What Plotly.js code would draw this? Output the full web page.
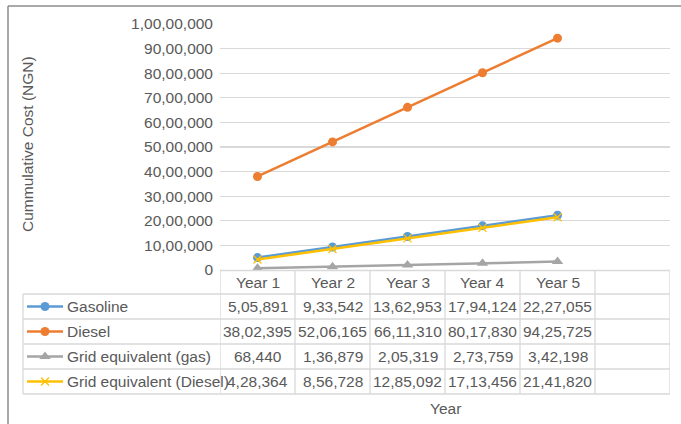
<!DOCTYPE html>
<html>
<head>
<meta charset="utf-8">
<script src="https://cdn.plot.ly/plotly-3.0.1.min.js"></script>
<style>html,body{margin:0;padding:0;background:#fff;}#chart{width:681px;height:424px;}</style>
</head>
<body>
<div id="chart"></div>
<script>
// ---- data ----
const years = ["Year 1", "Year 2", "Year 3", "Year 4", "Year 5"];
const seriesNames = ["Gasoline", "Diesel", "Grid equivalent (gas)", "Grid equivalent (Diesel)"];
const gasoline = [505891, 933542, 1362953, 1794124, 2227055];
const diesel = [3802395, 5206165, 6611310, 8017830, 9425725];
const gridGas = [68440, 136879, 205319, 273759, 342198];
const gridDiesel = [428364, 856728, 1285092, 1713456, 2141820];
const yTicks = [0, 1000000, 2000000, 3000000, 4000000, 5000000, 6000000, 7000000, 8000000, 9000000, 10000000];

// ---- styles ----
const W = 681, H = 424;
const FONT = "Liberation Sans, Arial, sans-serif";
const TXT = "#595959";
const FS = 15.5;
const GRID = "#d9d9d9";
const styles = [
  {color: "#5B9BD5", symbol: "circle", size: 9, lw: 0},
  {color: "#ED7D31", symbol: "circle", size: 9, lw: 0},
  {color: "#A5A5A5", symbol: "triangle-up", size: 10, lw: 0},
  {color: "#FFC000", symbol: "x-thin", size: 8, lw: 1.3}
];
const allSeries = [gasoline, diesel, gridGas, gridDiesel];

function inr(n) {
  const s = String(Math.round(n));
  if (s.length <= 3) return s;
  const last3 = s.slice(-3);
  let rest = s.slice(0, -3);
  const parts = [];
  while (rest.length > 2) { parts.unshift(rest.slice(-2)); rest = rest.slice(0, -2); }
  if (rest) parts.unshift(rest);
  return parts.join(",") + "," + last3;
}

// layout geometry (pixels)
const plotL = 220, plotR = 670, plotT = 24, plotB = 270;
const tableL = 23;
const rowLines = [270.5, 294, 319, 344, 369, 394];
const X = px => px / W;
const Y = py => 1 - py / H;

const traces = [];
allSeries.forEach((vals, i) => {
  const st = styles[i];
  traces.push({
    type: "scatter", mode: "lines+markers", x: years, y: vals, name: seriesNames[i],
    xaxis: "x", yaxis: "y", cliponaxis: false,
    line: {color: st.color, width: 2.5},
    marker: {color: st.color, symbol: st.symbol, size: st.size,
             line: {color: st.color, width: st.lw}},
    hoverinfo: "skip"
  });
  // legend swatch inside table (pixel overlay axes)
  const cy = (rowLines[i + 1] + rowLines[i + 2]) / 2;
  traces.push({
    type: "scatter", mode: "lines", x: [27, 63], y: [cy, cy],
    xaxis: "x2", yaxis: "y2", line: {color: st.color, width: 2.5}, hoverinfo: "skip"
  });
  traces.push({
    type: "scatter", mode: "markers", x: [45], y: [cy],
    xaxis: "x2", yaxis: "y2",
    marker: {color: st.color, symbol: st.symbol, size: st.size,
             line: {color: st.color, width: st.lw}},
    hoverinfo: "skip"
  });
});

const shapes = [];
const annotations = [];
const lineStyle = {color: GRID, width: 1.3};

// table horizontal lines
rowLines.forEach((ry, k) => {
  shapes.push({type: "line", xref: "paper", yref: "paper",
    x0: X(k === 0 ? plotL : tableL), x1: X(plotR), y0: Y(ry), y1: Y(ry), line: lineStyle});
});
// table vertical lines at category boundaries
for (let c = 0; c <= 6; c++) {
  shapes.push({type: "line", xref: "x", yref: "paper",
    x0: c - 0.5, x1: c - 0.5, y0: Y(rowLines[0]), y1: Y(rowLines[5]), line: lineStyle});
}
shapes.push({type: "line", xref: "paper", yref: "paper",
  x0: X(tableL), x1: X(tableL), y0: Y(rowLines[1]), y1: Y(rowLines[5]), line: lineStyle});

// outer chart border
shapes.push({type: "line", xref: "paper", yref: "paper", x0: X(8), x1: X(W + 5), y0: Y(6), y1: Y(6),
  line: {color: "#8c8c8c", width: 1.5}});
shapes.push({type: "line", xref: "paper", yref: "paper", x0: X(8), x1: X(8), y0: Y(6), y1: Y(H + 5),
  line: {color: "#8c8c8c", width: 1.5}});

const txtFont = {family: FONT, size: FS, color: TXT};
// header
years.forEach((yr, c) => {
  annotations.push({xref: "x", yref: "paper", x: c, y: Y((rowLines[0] + rowLines[1]) / 2),
    text: yr, showarrow: false, font: txtFont, xanchor: "center", yanchor: "middle"});
});
// rows
allSeries.forEach((vals, i) => {
  const cy = (rowLines[i + 1] + rowLines[i + 2]) / 2;
  annotations.push({xref: "paper", yref: "paper", x: X(65), y: Y(cy), text: seriesNames[i],
    showarrow: false, font: txtFont, xanchor: "left", yanchor: "middle"});
  vals.forEach((v, c) => {
    annotations.push({xref: "x", yref: "paper", x: c, y: Y(cy), text: inr(v),
      showarrow: false, font: txtFont, xanchor: "center", yanchor: "middle"});
  });
});
// axis titles
annotations.push({xref: "paper", yref: "paper", x: X(445), y: Y(408), text: "Year",
  showarrow: false, font: txtFont, xanchor: "center", yanchor: "middle"});
annotations.push({xref: "paper", yref: "paper", x: X(28), y: Y(144), text: "Cummulative Cost (NGN)",
  textangle: -90, showarrow: false, font: txtFont, xanchor: "center", yanchor: "middle"});

const layout = {
  width: W, height: H,
  margin: {l: 0, r: 0, t: 0, b: 0, pad: 0},
  paper_bgcolor: "#ffffff", plot_bgcolor: "rgba(0,0,0,0)",
  showlegend: false,
  font: {family: FONT, size: FS, color: TXT},
  xaxis: {domain: [X(plotL), X(plotR)], anchor: "y", type: "category",
    categoryorder: "array", categoryarray: years,
    range: [-0.5, 5.5], showticklabels: false, showgrid: false, zeroline: false,
    showline: false, ticks: "", fixedrange: true},
  yaxis: {domain: [Y(plotB), Y(plotT)], anchor: "x", range: [0, 10000000],
    tickvals: yTicks, ticktext: yTicks.map(inr), showgrid: true, gridcolor: GRID, gridwidth: 1.3,
    zeroline: false, showline: false, ticks: "", ticklabelstandoff: 6,
    tickfont: {family: FONT, size: FS, color: TXT}, fixedrange: true},
  xaxis2: {domain: [0, 1], anchor: "y2", range: [0, W], visible: false, fixedrange: true},
  yaxis2: {domain: [0, 1], anchor: "x2", range: [H, 0], visible: false, fixedrange: true},
  shapes: shapes,
  annotations: annotations
};

Plotly.newPlot("chart", traces, layout, {displayModeBar: false, staticPlot: true});
</script>
</body>
</html>
